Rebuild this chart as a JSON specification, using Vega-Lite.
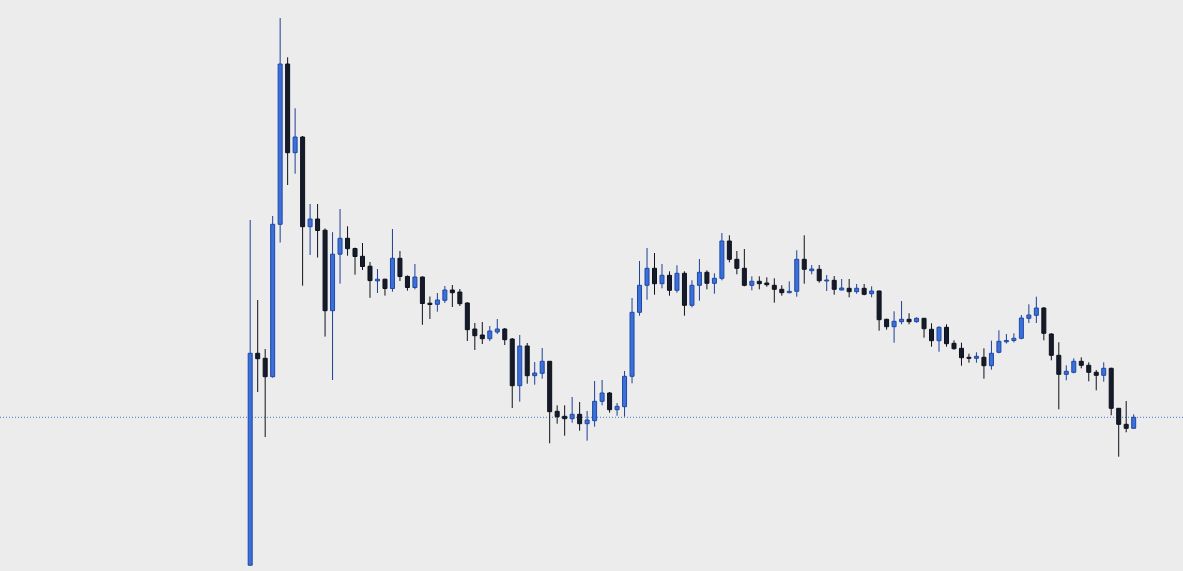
{
  "$schema": "https://vega.github.io/schema/vega-lite/v6.json",
  "width": 1183,
  "height": 571,
  "autosize": {"type": "none"},
  "padding": 0,
  "background": "#ececec",
  "config": {"view": {"stroke": null, "fill": "#ececec"}},
  "datasets": {
    "candles": [
      {"i":1,"o":5.8,"h":351,"l":5.5,"c":217.7},
      {"i":2,"o":217.7,"h":271,"l":179,"c":212.3},
      {"i":3,"o":212.7,"h":222,"l":134,"c":194.3},
      {"i":4,"o":194.3,"h":355,"l":193.3,"c":346.7},
      {"i":5,"o":346.7,"h":553,"l":328.5,"c":507},
      {"i":6,"o":507,"h":513.7,"l":386,"c":418.3},
      {"i":7,"o":418.3,"h":462.7,"l":397.3,"c":434},
      {"i":8,"o":434,"h":435,"l":285.3,"c":344.3},
      {"i":9,"o":344.3,"h":367,"l":316,"c":352},
      {"i":10,"o":352,"h":367,"l":313.5,"c":340.5},
      {"i":11,"o":340.8,"h":342.5,"l":234.4,"c":260.3},
      {"i":12,"o":260.3,"h":338.8,"l":191,"c":316.8},
      {"i":13,"o":316.8,"h":362,"l":287.3,"c":332.7},
      {"i":14,"o":332.7,"h":344.7,"l":315.3,"c":322.3},
      {"i":15,"o":322.5,"h":323.4,"l":296.3,"c":314.5},
      {"i":16,"o":314.7,"h":328,"l":301,"c":304.5},
      {"i":17,"o":304.8,"h":309,"l":273.2,"c":290.4},
      {"i":18,"o":290.1,"h":302,"l":278,"c":291.8},
      {"i":19,"o":291.8,"h":292.2,"l":275.4,"c":282.5},
      {"i":20,"o":282.5,"h":342,"l":279.3,"c":312.7},
      {"i":21,"o":312.7,"h":320,"l":290,"c":294.5},
      {"i":22,"o":294.6,"h":295.5,"l":280.4,"c":283.5},
      {"i":23,"o":283.5,"h":307,"l":281.7,"c":294},
      {"i":24,"o":294,"h":294.5,"l":246.2,"c":267.5},
      {"i":25,"o":267.8,"h":274.5,"l":252,"c":266.5},
      {"i":26,"o":266.7,"h":278,"l":259.3,"c":271},
      {"i":27,"o":270.7,"h":285,"l":268,"c":281},
      {"i":28,"o":281,"h":286,"l":264,"c":278.3},
      {"i":29,"o":279,"h":282,"l":265,"c":267.3},
      {"i":30,"o":268,"h":268.7,"l":230,"c":241.3},
      {"i":31,"o":242,"h":248,"l":221,"c":235.3},
      {"i":32,"o":236,"h":249,"l":227,"c":232.3},
      {"i":33,"o":232.3,"h":245,"l":230,"c":240},
      {"i":34,"o":239,"h":252,"l":237,"c":242},
      {"i":35,"o":242,"h":243,"l":226,"c":231.3},
      {"i":36,"o":232,"h":233,"l":163,"c":185.3},
      {"i":37,"o":185.3,"h":236,"l":169.3,"c":225},
      {"i":38,"o":225,"h":228,"l":187.3,"c":195.3},
      {"i":39,"o":195.3,"h":209,"l":186.3,"c":198},
      {"i":40,"o":197.7,"h":223,"l":192.3,"c":209.7},
      {"i":41,"o":209.7,"h":210,"l":127.7,"c":159.3},
      {"i":42,"o":159.7,"h":165.7,"l":147.3,"c":154.3},
      {"i":43,"o":154.7,"h":165.7,"l":135.3,"c":152.3},
      {"i":44,"o":152.3,"h":174,"l":148.3,"c":156.7},
      {"i":45,"o":156.7,"h":169,"l":140.3,"c":147.3},
      {"i":46,"o":147.3,"h":160,"l":130.3,"c":151},
      {"i":47,"o":150.3,"h":190,"l":144.3,"c":169.7},
      {"i":48,"o":169.7,"h":191,"l":165.7,"c":178},
      {"i":49,"o":178,"h":179,"l":158.3,"c":161.3},
      {"i":50,"o":161.3,"h":168,"l":155.3,"c":164.7},
      {"i":51,"o":164.3,"h":200,"l":154.3,"c":194.7},
      {"i":52,"o":194.7,"h":273,"l":187.7,"c":258.7},
      {"i":53,"o":258.7,"h":310,"l":255.3,"c":285.7},
      {"i":54,"o":285.7,"h":323,"l":271.3,"c":302.7},
      {"i":55,"o":302.7,"h":318,"l":276.3,"c":287.3},
      {"i":56,"o":287.3,"h":307,"l":282.7,"c":295.7},
      {"i":57,"o":295.7,"h":299.7,"l":275.3,"c":280.7},
      {"i":58,"o":280.7,"h":305.7,"l":278.3,"c":297.7},
      {"i":59,"o":297.7,"h":299.7,"l":255.3,"c":265.7},
      {"i":60,"o":265.7,"h":290.7,"l":263.7,"c":285.7},
      {"i":61,"o":285.7,"h":312,"l":270.3,"c":298.7},
      {"i":62,"o":298.7,"h":300.7,"l":281.7,"c":287.7},
      {"i":63,"o":287.7,"h":297.7,"l":277.3,"c":292.7},
      {"i":64,"o":292.7,"h":338,"l":290.7,"c":330},
      {"i":65,"o":330,"h":335.7,"l":308.7,"c":311.7},
      {"i":66,"o":311.7,"h":320,"l":296.7,"c":302.7},
      {"i":67,"o":302.7,"h":322,"l":284.7,"c":285.7},
      {"i":68,"o":285.7,"h":294.7,"l":280.7,"c":289.7},
      {"i":69,"o":289.7,"h":294.7,"l":281.7,"c":287.3},
      {"i":70,"o":288,"h":293.7,"l":284.3,"c":286.3},
      {"i":71,"o":285.7,"h":292.7,"l":268.3,"c":281.7},
      {"i":72,"o":281.7,"h":285.7,"l":275.3,"c":278.3},
      {"i":73,"o":278.3,"h":289.7,"l":277.7,"c":279.7},
      {"i":74,"o":279.7,"h":320.7,"l":274.3,"c":311.7},
      {"i":75,"o":311.7,"h":335.7,"l":287.3,"c":301.7},
      {"i":76,"o":300.3,"h":306,"l":296.7,"c":302},
      {"i":77,"o":301.7,"h":306,"l":288.3,"c":290.3},
      {"i":78,"o":290,"h":296,"l":280,"c":291},
      {"i":79,"o":290.7,"h":295,"l":276.3,"c":281.7},
      {"i":80,"o":281,"h":292,"l":280.7,"c":283},
      {"i":81,"o":282.7,"h":292,"l":273.7,"c":279.3},
      {"i":82,"o":279.3,"h":287,"l":277.3,"c":282.7},
      {"i":83,"o":282.7,"h":287,"l":275.7,"c":276.7},
      {"i":84,"o":277.3,"h":284.7,"l":273.7,"c":280},
      {"i":85,"o":280,"h":280.3,"l":240.3,"c":251.3},
      {"i":86,"o":251.7,"h":252.3,"l":241.3,"c":244.3},
      {"i":87,"o":244.3,"h":259.7,"l":228.3,"c":249.7},
      {"i":88,"o":249.3,"h":270,"l":246.7,"c":251.7},
      {"i":89,"o":251.7,"h":257.7,"l":246.7,"c":249.3},
      {"i":90,"o":249.3,"h":253.7,"l":248.3,"c":252.7},
      {"i":91,"o":252.7,"h":253,"l":233.3,"c":242.3},
      {"i":92,"o":241.7,"h":247.7,"l":224.3,"c":230.3},
      {"i":93,"o":230.3,"h":244.7,"l":219.3,"c":243.7},
      {"i":94,"o":243.7,"h":246.7,"l":224.3,"c":227.3},
      {"i":95,"o":227.7,"h":230.7,"l":221.3,"c":222.3},
      {"i":96,"o":222.7,"h":228.3,"l":205.3,"c":213.3},
      {"i":97,"o":213.7,"h":217.3,"l":208.3,"c":212.7},
      {"i":98,"o":212.7,"h":218.7,"l":208.3,"c":214.7},
      {"i":99,"o":213.7,"h":222.7,"l":192.3,"c":205.3},
      {"i":100,"o":205.3,"h":230.3,"l":201.3,"c":217.7},
      {"i":101,"o":218.7,"h":240.7,"l":217.7,"c":229.7},
      {"i":102,"o":229.2,"h":237,"l":227.5,"c":230.5},
      {"i":103,"o":230.5,"h":237.7,"l":228.5,"c":232.7},
      {"i":104,"o":232.7,"h":256,"l":231.7,"c":253},
      {"i":105,"o":252.7,"h":266.7,"l":248,"c":256},
      {"i":106,"o":255.7,"h":274.3,"l":248,"c":263},
      {"i":107,"o":263,"h":264,"l":230.7,"c":237.7},
      {"i":108,"o":237,"h":237.7,"l":210.7,"c":215.7},
      {"i":109,"o":215.7,"h":228.7,"l":161.7,"c":196.7},
      {"i":110,"o":196.7,"h":205.7,"l":190.7,"c":199.7},
      {"i":111,"o":198.7,"h":212.7,"l":197.7,"c":209.7},
      {"i":112,"o":209.7,"h":213.7,"l":202.7,"c":205.7},
      {"i":113,"o":205.7,"h":208.7,"l":189.7,"c":198.7},
      {"i":114,"o":198.7,"h":201,"l":180.7,"c":195.7},
      {"i":115,"o":195.7,"h":208.7,"l":189.3,"c":202.7},
      {"i":116,"o":202.7,"h":203.3,"l":155.7,"c":162.7},
      {"i":117,"o":162.7,"h":163,"l":114.3,"c":146.7},
      {"i":118,"o":146.7,"h":170,"l":138.7,"c":142.7},
      {"i":119,"o":142.7,"h":156.7,"l":142.7,"c":153.7}
    ],
    "level": [{"price": 153.7}]
  },
  "layer": [
    {
      "data": {"name": "level"},
      "mark": {"type": "rule", "strokeDash": [1, 2], "strokeWidth": 1, "color": "#4a74c6"},
      "encoding": {
        "y": {"field": "price", "type": "quantitative", "scale": {"domain": [0, 571], "nice": false, "zero": false}, "axis": null}
      }
    },
    {
      "data": {"name": "candles"},
      "mark": {"type": "rule", "strokeWidth": 1},
      "encoding": {
        "x": {"field": "i", "type": "quantitative", "scale": {"domain": [-31.75, 124.92], "nice": false, "zero": false}, "axis": null},
        "y": {"field": "h", "type": "quantitative", "scale": {"domain": [0, 571], "nice": false, "zero": false}, "axis": null},
        "y2": {"field": "l"},
        "color": {"condition": {"test": "datum.c >= datum.o", "value": "#1f3f96"}, "value": "#0f121a"}
      }
    },
    {
      "data": {"name": "candles"},
      "mark": {"type": "bar", "size": 4, "strokeWidth": 1},
      "encoding": {
        "x": {"field": "i", "type": "quantitative", "scale": {"domain": [-31.75, 124.92], "nice": false, "zero": false}, "axis": null},
        "y": {"field": "o", "type": "quantitative", "scale": {"domain": [0, 571], "nice": false, "zero": false}, "axis": null},
        "y2": {"field": "c"},
        "fill": {"condition": {"test": "datum.c >= datum.o", "value": "#3b70da"}, "value": "#151b2b"},
        "stroke": {"condition": {"test": "datum.c >= datum.o", "value": "#1d48a6"}, "value": "#0d111c"}
      }
    }
  ]
}
